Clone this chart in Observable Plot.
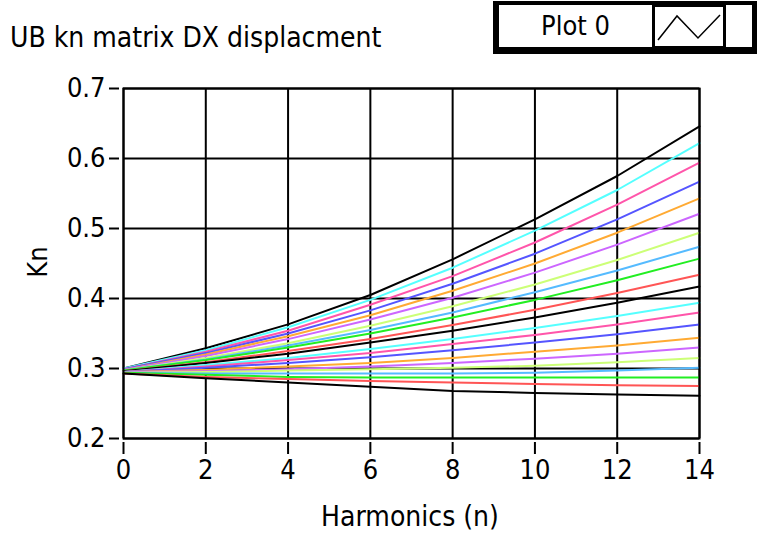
<!DOCTYPE html>
<html>
<head>
<meta charset="utf-8">
<script src="https://cdn.jsdelivr.net/npm/d3@7"></script>
<script src="https://cdn.jsdelivr.net/npm/@observablehq/plot@0.6"></script>
<style>
  body { margin: 0; background: #fff; }
  #wrap { position: relative; width: 759px; height: 534px; overflow: hidden;
          font-family: "DejaVu Sans Condensed", "Liberation Sans Narrow", "Liberation Sans", sans-serif; color: #000; }
  #wrap svg { position: absolute; left: 0; top: 0; }
  .title { position: absolute; left: 10px; top: 21px; font-size: 28px; line-height: 34px; white-space: nowrap; }
  .legend { position: absolute; left: 493px; top: 1px; width: 264px; height: 53px; background: #000; }
  .legend .cell { position: absolute; background: #fff; }
  .legend .name { left: 6px; top: 4px; width: 153px; height: 42px; font-size: 27px; line-height: 42px; text-align: center; }
  .legend .icon { left: 162px; top: 6px; width: 68px; height: 39px; }
  .legend .blank { left: 233px; top: 4px; width: 26px; height: 42px; }
  .ylab { position: absolute; left: 22px; top: 262px; font-size: 27px; transform: translate(0, -50%) rotate(-90deg); transform-origin: 50% 50%; }
  .xlab { position: absolute; left: 410px; top: 500px; font-size: 28px; transform: translateX(-50%); white-space: nowrap; }
</style>
</head>
<body>
<div id="wrap">
  <div class="title">UB kn matrix DX displacment</div>
  <div class="legend">
    <div class="cell name">Plot 0</div>
    <div class="cell icon"><svg width="68" height="39" viewBox="0 0 68 39"><polyline points="3,33 22,9 43,31 65,8" fill="none" stroke="#000" stroke-width="1.5"/></svg></div>
    <div class="cell blank"></div>
  </div>
  <div class="ylab">Kn</div>
  <div class="xlab">Harmonics (n)</div>
</div>
<script>
// Harmonic orders at which Kn is sampled
const harmonics = [0, 2, 4, 6, 8, 10, 12, 14];

// Axis ticks
const xTicks = [0, 2, 4, 6, 8, 10, 12, 14];
const yTicks = [0.2, 0.3, 0.4, 0.5, 0.6, 0.7];

// Plot colours, cycled through the series
const plotColors = ["#000000", "#55ffff", "#ff55aa", "#5555ff", "#ffaa33",
                    "#cc66ff", "#ccff77", "#55bbff", "#22ee22", "#ff5555"];

// Kn per harmonic, one array per matrix column (top to bottom at n = 14)
const kn01 = [0.300, 0.329, 0.363, 0.405, 0.456, 0.513, 0.575, 0.646];
const kn02 = [0.300, 0.326, 0.359, 0.398, 0.444, 0.497, 0.555, 0.622];
const kn03 = [0.299, 0.324, 0.354, 0.391, 0.432, 0.480, 0.534, 0.594];
const kn04 = [0.299, 0.322, 0.350, 0.383, 0.421, 0.464, 0.513, 0.567];
const kn05 = [0.298, 0.320, 0.346, 0.376, 0.411, 0.450, 0.494, 0.543];
const kn06 = [0.298, 0.318, 0.342, 0.370, 0.401, 0.437, 0.477, 0.521];
const kn07 = [0.297, 0.315, 0.336, 0.361, 0.389, 0.420, 0.455, 0.494];
const kn08 = [0.297, 0.313, 0.333, 0.355, 0.380, 0.409, 0.440, 0.474];
const kn09 = [0.297, 0.312, 0.330, 0.350, 0.373, 0.398, 0.426, 0.457];
const kn10 = [0.296, 0.309, 0.325, 0.342, 0.362, 0.384, 0.408, 0.434];
const kn11 = [0.296, 0.308, 0.321, 0.337, 0.354, 0.373, 0.394, 0.417];
const kn12 = [0.295, 0.305, 0.315, 0.328, 0.342, 0.358, 0.375, 0.394];
const kn13 = [0.295, 0.303, 0.312, 0.322, 0.335, 0.348, 0.363, 0.380];
const kn14 = [0.295, 0.301, 0.308, 0.316, 0.326, 0.337, 0.349, 0.363];
const kn15 = [0.295, 0.298, 0.303, 0.308, 0.315, 0.324, 0.333, 0.344];
const kn16 = [0.295, 0.296, 0.299, 0.303, 0.308, 0.314, 0.321, 0.330];
const kn17 = [0.294, 0.295, 0.297, 0.299, 0.301, 0.304, 0.309, 0.315];
const kn18 = [0.294, 0.293, 0.293, 0.293, 0.293, 0.294, 0.297, 0.301];
const kn19 = [0.294, 0.291, 0.288, 0.287, 0.287, 0.287, 0.287, 0.287];
const kn20 = [0.293, 0.288, 0.285, 0.282, 0.280, 0.278, 0.276, 0.275];
const kn21 = [0.293, 0.286, 0.280, 0.274, 0.268, 0.265, 0.263, 0.261];

const series = [kn01, kn02, kn03, kn04, kn05, kn06, kn07, kn08, kn09, kn10, kn11,
                kn12, kn13, kn14, kn15, kn16, kn17, kn18, kn19, kn20, kn21];

const rows = series.flatMap((vals, i) =>
  vals.map((v, j) => ({n: harmonics[j], kn: v, id: i, color: plotColors[i % plotColors.length]})));

const chart = Plot.plot({
  width: 759,
  height: 534,
  marginLeft: 123,
  marginRight: 60,
  marginTop: 88,
  marginBottom: 96,
  style: {background: "transparent", color: "#000", fontSize: "27px",
          fontFamily: "\"DejaVu Sans Condensed\", \"Liberation Sans Narrow\", \"Liberation Sans\", sans-serif"},
  x: {domain: [0, 14]},
  y: {domain: [0.2, 0.7]},
  color: {type: "identity"},
  marks: [
    Plot.gridX(xTicks, {stroke: "#000", strokeOpacity: 1, strokeWidth: 2}),
    Plot.gridY(yTicks, {stroke: "#000", strokeOpacity: 1, strokeWidth: 2}),
    Plot.line(rows, {x: "n", y: "kn", z: "id", stroke: "color", strokeWidth: 2}),
    Plot.frame({stroke: "#000", strokeWidth: 2}),
    Plot.axisX(xTicks, {tickSize: 12, tickPadding: 5, dy: 4, strokeWidth: 2, label: null, tickFormat: d3.format("d")}),
    Plot.axisY(yTicks, {tickSize: 10, tickPadding: 4, dx: -4, strokeWidth: 2, label: null, tickFormat: d3.format(".1f")})
  ]
});
document.getElementById("wrap").prepend(chart);
</script>
</body>
</html>
